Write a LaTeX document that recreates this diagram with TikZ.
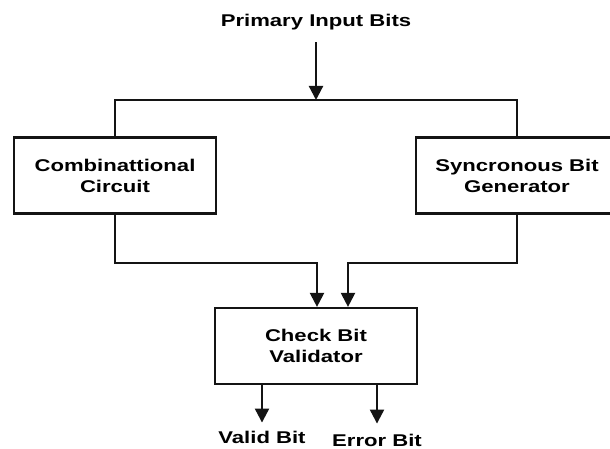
\documentclass[tikz,border=0pt]{standalone}
\usepackage{fontspec}
\setmainfont[FakeStretch=1.3]{Liberation Sans}
\usepackage{tikz}
\usetikzlibrary{arrows.meta, positioning, calc}
\definecolor{lineblack}{RGB}{20, 20, 20}
\tikzset{
    block/.style={
        rectangle,
        draw=lineblack,
        line width=2.2pt,
        minimum width=202pt,
        minimum height=76pt,
        align=center,
        font=\fontsize{17}{21}\selectfont\bfseries
    },
    label/.style={
        font=\fontsize{17}{21}\selectfont\bfseries,
        inner sep=0pt
    },
    wire/.style={
        line width=2.2pt,
        draw=lineblack
    },
    flow/.style={
        wire,
        -{Triangle[length=14pt, width=14pt]}
    }
}
\begin{document}
\begin{tikzpicture}[x=1pt, y=-1pt]
        \clip (0,0) rectangle (610,449);

        \node[label] (inbits) at (316,22) {Primary Input Bits};
        \coordinate (split) at (316,100);

        \node[block] (comb) at (115,175.5) {Combinattional\\Circuit};
        \node[block] (sync) at (517,175.5) {Syncronous Bit\\Generator};
        \node[block] (check) at (316,346) {Check Bit\\Validator};

        \node[label] (valid) at (262,437) {Valid Bit};
        \node[label] (error) at (377,440) {Error Bit};

        \draw[flow, shorten <=12pt] (inbits.south) -- (split);
        \draw[wire] (split) -| (comb.north);
        \draw[wire] (split) -| (sync.north);

        \draw[flow] (comb.south) -- ++(0,48) -| ([xshift=1pt]check.north);
        \draw[flow] (sync.south) -- ++(0,48) -| ([xshift=32pt]check.north);

        \draw[flow, shorten >=8pt] (check.south -| valid.north) -- (valid.north);
        \draw[flow, shorten >=10pt] (check.south -| error.north) -- (error.north);
    \end{tikzpicture}
\end{document}
